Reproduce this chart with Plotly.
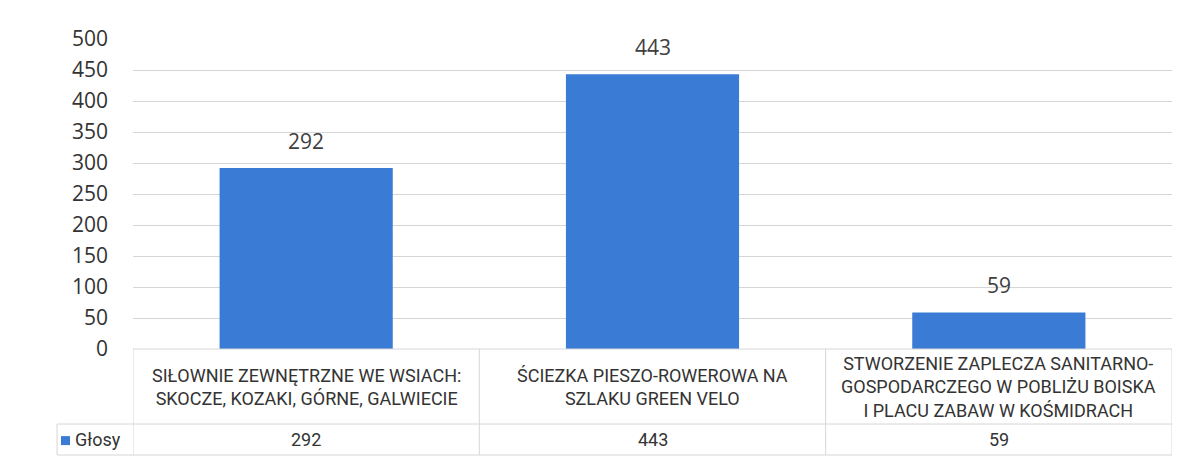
import plotly.graph_objects as go

categories = [
    "SIŁOWNIE ZEWNĘTRZNE WE WSIACH:<br>SKOCZE, KOZAKI, GÓRNE, GALWIECIE",
    "ŚCIEZKA PIESZO-ROWEROWA NA<br>SZLAKU GREEN VELO",
    "STWORZENIE ZAPLECZA SANITARNO-<br>GOSPODARCZEGO W POBLIŻU BOISKA<br>I PLACU ZABAW W KOŚMIDRACH",
]
votes = [292, 443, 59]
series_name = "Głosy"
y_ticks = [0, 50, 100, 150, 200, 250, 300, 350, 400, 450, 500]

bar_color = "#3A7BD5"
line_color = "#d6d6d6"
text_color = "#333333"

x_idx = list(range(len(categories)))

fig = go.Figure()
fig.add_trace(go.Bar(
    x=x_idx, y=votes, width=0.5,
    marker=dict(color=bar_color, line=dict(width=0)),
    name=series_name, showlegend=False,
))

# data table under the chart
shapes = []
row1 = -0.242   # bottom of category label row
row2 = -0.342   # bottom of values row
left_col = -0.0731
for y0, xl in [(0, 0), (row1, left_col), (row2, left_col)]:
    shapes.append(dict(type="line", xref="paper", yref="paper", x0=xl, x1=1, y0=y0, y1=y0,
                       line=dict(color=line_color, width=1)))
shapes.append(dict(type="line", xref="paper", yref="paper", x0=left_col, x1=left_col, y0=row1, y1=row2,
                   line=dict(color=line_color, width=1)))
for i in range(len(categories) + 1):
    shapes.append(dict(type="line", xref="x", yref="paper", x0=i - 0.5, x1=i - 0.5, y0=0, y1=row2,
                       line=dict(color=line_color, width=1)))
# legend key
shapes.append(dict(type="rect", xref="paper", yref="paper",
                   x0=-0.0693, x1=-0.0606, y0=-0.281, y1=-0.310,
                   fillcolor=bar_color, line=dict(width=0)))

annotations = []
for i, (cat, v) in enumerate(zip(categories, votes)):
    annotations.append(dict(x=i, y=v, xref="x", yref="y", text=str(v), showarrow=False,
                            xanchor="center", yanchor="bottom", yshift=11,
                            font=dict(family="Open Sans", size=21, color="#404040")))
    annotations.append(dict(x=i, y=row1 / 2, xref="x", yref="paper", text=cat, showarrow=False,
                            xanchor="center", yanchor="middle",
                            font=dict(family="Roboto", size=18, color=text_color)))
    annotations.append(dict(x=i, y=(row1 + row2) / 2, xref="x", yref="paper", text=str(v),
                            showarrow=False, xanchor="center", yanchor="middle",
                            font=dict(family="Roboto", size=18, color=text_color)))
annotations.append(dict(x=-0.0577, y=(row1 + row2) / 2, xref="paper", yref="paper", text=series_name,
                        showarrow=False, xanchor="left", yanchor="middle",
                        font=dict(family="Roboto", size=18, color=text_color)))

fig.update_layout(
    width=1180, height=451,
    margin=dict(l=125, r=16, t=31, b=110),
    paper_bgcolor="white", plot_bgcolor="white",
    xaxis=dict(range=[-0.5, 2.5], showticklabels=False, showgrid=False, zeroline=False),
    yaxis=dict(range=[0, 500], tickvals=y_ticks, showgrid=True, gridcolor=line_color,
               zeroline=False, ticks="", ticklabelstandoff=24,
               tickfont=dict(family="Open Sans", size=21, color="#333333")),
    shapes=shapes, annotations=annotations,
)

fig.write_html("out.html")
